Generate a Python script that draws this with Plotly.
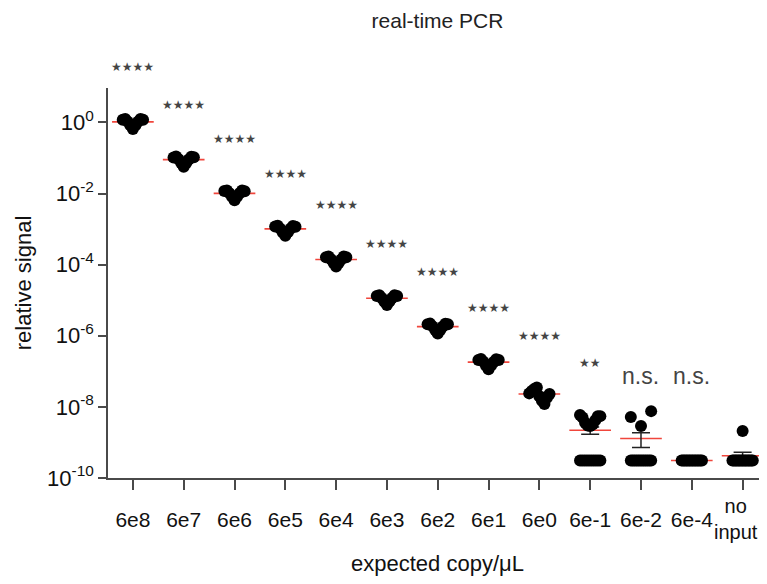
import numpy as np
import plotly.graph_objects as go

# ---------------- data ----------------
categories = ["6e8", "6e7", "6e6", "6e5", "6e4", "6e3", "6e2", "6e1", "6e0",
              "6e-1", "6e-2", "6e-4", "no input"]
significance = ["****", "****", "****", "****", "****", "****", "****", "****",
                "****", "**", "n.s.", "n.s.", ""]

v_6e8 = [1.20, 1.26, 1.05, 0.83, 0.66, 0.83, 1.05, 1.26, 1.20]
v_6e7 = [0.104, 0.110, 0.092, 0.072, 0.057, 0.073, 0.091, 0.109, 0.105]
v_6e6 = [0.0118, 0.0123, 0.0103, 0.0081, 0.0065, 0.0082, 0.0102, 0.0122, 0.0117]
v_6e5 = [1.18e-3, 1.24e-3, 1.03e-3, 0.81e-3, 0.65e-3, 0.82e-3, 1.02e-3, 1.22e-3, 1.17e-3]
v_6e4 = [1.62e-4, 1.70e-4, 1.42e-4, 1.12e-4, 0.89e-4, 1.11e-4, 1.41e-4, 1.69e-4, 1.63e-4]
v_6e3 = [1.32e-5, 1.39e-5, 1.16e-5, 0.91e-5, 0.73e-5, 0.92e-5, 1.15e-5, 1.38e-5, 1.31e-5]
v_6e2 = [2.10e-6, 2.20e-6, 1.84e-6, 1.45e-6, 1.16e-6, 1.46e-6, 1.83e-6, 2.19e-6, 2.11e-6]
v_6e1 = [2.10e-7, 2.21e-7, 1.85e-7, 1.44e-7, 1.15e-7, 1.45e-7, 1.84e-7, 2.20e-7, 2.09e-7]
v_6e0 = [2.4e-8, 2.8e-8, 3.2e-8, 3.5e-8, 2.0e-8, 1.5e-8, 1.2e-8, 1.8e-8, 2.3e-8]
v_6em1 = [5.9e-9, 5.0e-9, 3.6e-9, 3.0e-9, 2.9e-9, 3.2e-9, 4.2e-9, 5.5e-9, 5.5e-9,
          3.1e-10, 3.1e-10, 3.1e-10, 3.1e-10, 3.1e-10, 3.1e-10, 3.1e-10, 3.1e-10,
          3.1e-10, 3.1e-10]
v_6em2 = [5.2e-9, 2.9e-9, 7.6e-9,
          3.1e-10, 3.1e-10, 3.1e-10, 3.1e-10, 3.1e-10, 3.1e-10, 3.1e-10, 3.1e-10,
          3.1e-10, 3.1e-10, 3.1e-10, 3.1e-10]
v_6em4 = [3.1e-10, 3.1e-10, 3.1e-10, 3.1e-10, 3.1e-10, 3.1e-10, 3.1e-10, 3.1e-10,
          3.1e-10, 3.1e-10, 3.1e-10, 3.1e-10, 3.1e-10, 3.1e-10]
v_noinput = [2.1e-9,
             3.1e-10, 3.1e-10, 3.1e-10, 3.1e-10, 3.1e-10, 3.1e-10, 3.1e-10, 3.1e-10,
             3.1e-10, 3.1e-10, 3.1e-10, 3.1e-10, 3.1e-10, 3.1e-10, 3.1e-10]

groups = [v_6e8, v_6e7, v_6e6, v_6e5, v_6e4, v_6e3, v_6e2, v_6e1, v_6e0,
          v_6em1, v_6em2, v_6em4, v_noinput]

ytick_exp = [0, -2, -4, -6, -8, -10]

# ---------------- styling ----------------
FONT = "Liberation Sans"
HALF = 0.2        # horizontal spread of scatter dots (category units)
MEAN_HALF = 0.41  # half-width of red mean line
RED = "#f0463c"
AXIS = "#4a4a4a"
Y_LO, Y_HI = -10, 0.97
W, H = 759, 576   # page body has an 8px margin


def spread(n):
    if n == 1:
        return [0.0]
    return [-HALF + 2 * HALF * k / (n - 1) for k in range(n)]


def paper_y(logv):
    return (logv - Y_LO) / (Y_HI - Y_LO)


px_x, px_y = [], []
means, sems = [], []
for i, vals in enumerate(groups):
    arr = np.array(vals, dtype=float)
    means.append(arr.mean())
    sems.append(arr.std(ddof=1) / np.sqrt(len(arr)))
    lo = arr.min()
    floor_idx = [k for k, v in enumerate(vals) if v == lo]
    if len(floor_idx) > 1:
        parts = [[k for k in range(len(vals)) if k not in floor_idx], floor_idx]
    else:
        parts = [list(range(len(vals)))]
    for part in parts:
        if not part:
            continue
        for k, off in zip(part, spread(len(part))):
            px_x.append(i + off)
            px_y.append(vals[k])

fig = go.Figure()

# red mean lines
mx, my = [], []
for i, m in enumerate(means):
    mx += [i - MEAN_HALF, i + MEAN_HALF, None]
    my += [m, m, None]
fig.add_trace(go.Scatter(x=mx, y=my, mode="lines",
                         line=dict(color=RED, width=1.6),
                         hoverinfo="skip", showlegend=False))

# SEM error bars
fig.add_trace(go.Scatter(x=list(range(len(categories))), y=means, mode="markers",
                         marker=dict(size=1, color="rgba(0,0,0,0)"),
                         error_y=dict(type="data", array=sems, color="#222",
                                      thickness=1.5, width=9),
                         showlegend=False))

# dots
fig.add_trace(go.Scatter(x=px_x, y=px_y, mode="markers",
                         marker=dict(size=12, color="black", line=dict(width=0)),
                         showlegend=False))

# significance labels
ns_max = max(max(groups[i]) for i, s in enumerate(significance) if s == "n.s.")
for i, s in enumerate(significance):
    if not s:
        continue
    if s == "n.s.":
        fig.add_annotation(x=i, y=paper_y(np.log10(ns_max) + 1.0), xref="x", yref="paper",
                           text=s, showarrow=False, yanchor="middle",
                           font=dict(family=FONT, size=23, color="#444"))
    else:
        fig.add_annotation(x=i, y=paper_y(np.log10(max(groups[i])) + 1.45),
                           xref="x", yref="paper", yanchor="middle",
                           text="\u2605" * len(s), showarrow=False,
                           font=dict(family="DejaVu Sans", size=12, color="#444"))

# "no input" two-line label centred on the tick-label row
fig.add_annotation(x=len(categories) - 1, y=0, xref="x", yref="paper",
                   yshift=-41, xshift=-7, yanchor="middle", text="no<br>input",
                   showarrow=False, align="center",
                   font=dict(family=FONT, size=20, color="#111"))

ticktext_x = [c if c != "no input" else "" for c in categories]

fig.update_layout(
    width=W, height=H,
    margin=dict(l=100, r=0, t=80, b=106),
    paper_bgcolor="white", plot_bgcolor="white",
    font=dict(family=FONT, color="#111"),
    title=dict(text="real-time PCR", x=429.5 / W, xanchor="center",
               y=1 - 13 / H, yanchor="middle", yref="container",
               font=dict(family=FONT, size=21, color="#222")),
    xaxis=dict(range=[-0.49, 12.48], tickmode="array",
               tickvals=list(range(len(categories))), ticktext=ticktext_x,
               showgrid=False, zeroline=False, showline=True,
               linecolor=AXIS, linewidth=1.5,
               ticks="outside", ticklen=10, tickwidth=1.5, tickcolor=AXIS,
               ticklabelstandoff=12,
               tickfont=dict(family=FONT, size=21, color="#111"),
               title=dict(text="expected copy/\u03bcL", standoff=26,
                          font=dict(family=FONT, size=22, color="#111"))),
    yaxis=dict(type="log", range=[Y_LO, Y_HI], tickmode="array",
               tickvals=[10.0 ** e for e in ytick_exp],
               ticktext=[f"10<sup>{e}</sup>" for e in ytick_exp],
               showgrid=False, zeroline=False, showline=True,
               linecolor=AXIS, linewidth=1.5,
               ticks="outside", ticklen=8, tickwidth=1.5, tickcolor=AXIS,
               tickfont=dict(family=FONT, size=22, color="#111"),
               title=dict(text="relative signal", standoff=9,
                          font=dict(family=FONT, size=22, color="#111"))),
)

fig.write_html("out.html")
